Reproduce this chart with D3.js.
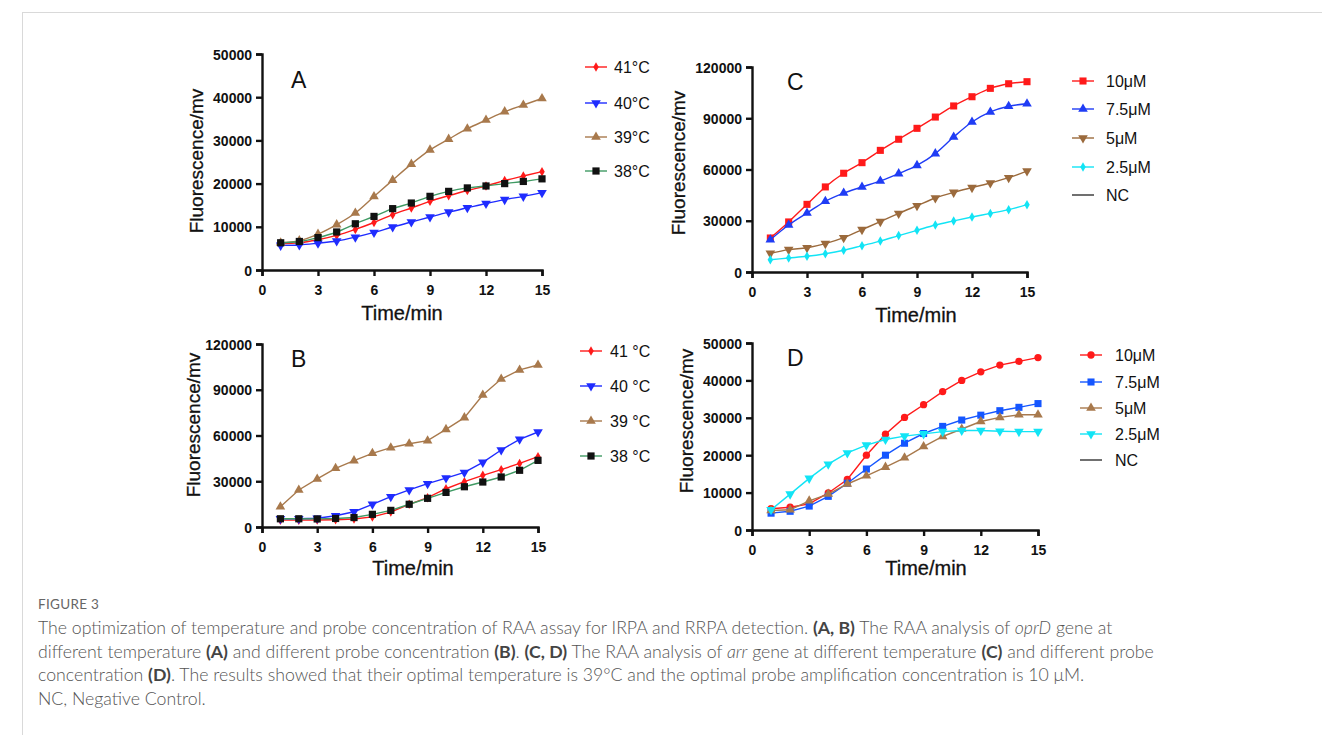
<!DOCTYPE html>
<html><head><meta charset="utf-8">
<script src="https://cdn.jsdelivr.net/npm/d3@7"></script>
<style>
html,body{margin:0;padding:0;background:#fff;}
svg{display:block;}
</style></head>
<body>
<svg id="fig" width="1322" height="735"></svg>
<script>
// ---------- DATA ----------
const timeMin = [1,2,3,4,5,6,7,8,9,10,11,12,13,14,15];
const xTicks = [0,3,6,9,12,15];
const yTicks50k = [0,10000,20000,30000,40000,50000];
const yTicks120k = [0,30000,60000,90000,120000];

const tempLabelsA = ["41°C","40°C","39°C","38°C"];
const tempLabelsB = ["41 °C","40 °C","39 °C","38 °C"];
const probeLabels = ["10μM","7.5μM","5μM","2.5μM","NC"];

// Panel A (oprD, temperature)
const a41 = [6100,6300,7000,8000,9400,11000,12800,14350,15900,17200,18400,19450,20700,21750,22760];
const a40 = [5700,5800,6200,6700,7600,8700,9950,11100,12270,13400,14400,15400,16300,17050,17900];
const a39 = [6300,6800,8300,10500,13200,17000,20800,24500,27800,30300,32700,34700,36650,38200,39700];
const a38 = [6300,6600,7500,8800,10700,12400,14200,15500,17050,18200,19000,19450,20000,20500,21100];

// Panel B
const b41 = [4500,4500,4600,4800,5200,6600,9800,14900,19200,25100,29700,33900,37600,41700,46100];
const b40 = [5400,5400,5700,7400,10000,14900,19900,24300,28400,32100,35800,42400,50500,57500,62300];
const b39 = [13300,24300,31500,38500,43500,48300,52000,54600,56600,64000,71700,86600,97000,103000,106200];
const b38 = [5400,5400,5300,5600,6200,8300,10900,14900,18800,22700,26400,29500,32800,37200,43700];

// Panel C (arr)
const c10 = [19900,29300,39600,49800,57800,64000,71200,77700,84100,90700,97200,102600,107500,110200,111400];
const c75 = [18900,27500,34500,41400,46200,49800,53300,57600,62400,69300,79000,87800,93700,97000,98500];
const c5  = [10900,13100,14200,16600,20100,24800,29500,34300,38800,43300,46600,49400,52100,55200,59100];
const c25 = [7200,8200,9200,10700,12700,15400,18100,21300,24400,27500,29900,32200,34300,36500,39400];

// Panel D
const d10 = [5700,6100,7000,9900,13500,20000,25600,30100,33500,37000,40000,42300,44100,45100,46100];
const d75 = [4500,5000,6400,9000,12500,16300,20000,23200,25800,27700,29400,30700,31900,32800,33800];
const d5  = [5200,5400,7800,9600,12300,14500,16800,19300,22300,25000,27000,29000,30100,30800,30800];
const d25 = [5400,9600,13800,17600,20600,22700,24200,25100,25700,26300,26600,26600,26400,26300,26300];

// ---------- STYLE ----------
const RED="#ff1a1a", BLUE="#1f2cff", BROWN="#a8794c", GREEN="#3f9a63", BLACK="#111",
      CBLUE="#1f3cf5", CYAN="#12e4f5", DBLUE="#1556ff", CBROWN="#9b6a3c";

const triDown = {draw(ctx,size){const s=Math.sqrt(size/(Math.sqrt(3)/4)); const h=s*Math.sqrt(3)/2;
  ctx.moveTo(-s/2,-h/3); ctx.lineTo(s/2,-h/3); ctx.lineTo(0,2*h/3); ctx.closePath();}};
const triUp = {draw(ctx,size){const s=Math.sqrt(size/(Math.sqrt(3)/4)); const h=s*Math.sqrt(3)/2;
  ctx.moveTo(-s/2,h/3); ctx.lineTo(s/2,h/3); ctx.lineTo(0,-2*h/3); ctx.closePath();}};

const panels = [
  {letter:"A", x0:262, x1:542, yT:54, yB:270, ymax:50000, yTicks:yTicks50k, curve:d3.curveMonotoneX,
   ylab:{x:203,y:161}, xlab:{x:402,y:320}, let:{x:291,y:88},
   legend:{l1:585,l2:607,tx:614,rows:[67,103,137,171]},
   series:[
     {name:tempLabelsA[0], v:a41, line:RED, fill:RED, sym:d3.symbolDiamond, size:26},
     {name:tempLabelsA[1], v:a40, line:BLUE, fill:BLUE, sym:triDown, size:40},
     {name:tempLabelsA[2], v:a39, line:BROWN, fill:BROWN, sym:triUp, size:40},
     {name:tempLabelsA[3], v:a38, line:GREEN, fill:BLACK, sym:d3.symbolSquare, size:52}]},
  {letter:"B", x0:262, x1:538, yT:344, yB:527, ymax:120000, yTicks:yTicks120k, curve:d3.curveLinear,
   ylab:{x:200,y:425}, xlab:{x:413,y:575}, let:{x:291,y:367},
   legend:{l1:580,l2:602,tx:610,rows:[351,386,421,456]},
   series:[
     {name:tempLabelsB[0], v:b41, line:RED, fill:RED, sym:d3.symbolDiamond, size:26},
     {name:tempLabelsB[1], v:b40, line:BLUE, fill:BLUE, sym:triDown, size:40},
     {name:tempLabelsB[2], v:b39, line:BROWN, fill:BROWN, sym:triUp, size:40},
     {name:tempLabelsB[3], v:b38, line:GREEN, fill:BLACK, sym:d3.symbolSquare, size:52}]},
  {letter:"C", x0:752, x1:1027, yT:67, yB:272, ymax:120000, yTicks:yTicks120k, curve:d3.curveMonotoneX,
   ylab:{x:685,y:163}, xlab:{x:916,y:322}, let:{x:787,y:90},
   legend:{l1:1072,l2:1094,tx:1106,rows:[81,109,138,167,195]},
   series:[
     {name:probeLabels[0], v:c10, line:RED, fill:RED, sym:d3.symbolSquare, size:50},
     {name:probeLabels[1], v:c75, line:CBLUE, fill:CBLUE, sym:triUp, size:40},
     {name:probeLabels[2], v:c5, line:CBROWN, fill:CBROWN, sym:triDown, size:40},
     {name:probeLabels[3], v:c25, line:CYAN, fill:CYAN, sym:d3.symbolDiamond, size:26},
     {name:probeLabels[4], v:null, line:"#333", fill:null, sym:null, size:0}]},
  {letter:"D", x0:752, x1:1038, yT:343, yB:530, ymax:50000, yTicks:yTicks50k, curve:d3.curveLinear,
   ylab:{x:693,y:421}, xlab:{x:926,y:575}, let:{x:787,y:366},
   legend:{l1:1080,l2:1102,tx:1115,rows:[355,382,408,434,460]},
   series:[
     {name:probeLabels[0], v:d10, line:RED, fill:RED, sym:d3.symbolCircle, size:42},
     {name:probeLabels[1], v:d75, line:DBLUE, fill:DBLUE, sym:d3.symbolSquare, size:50},
     {name:probeLabels[2], v:d5, line:BROWN, fill:BROWN, sym:triUp, size:40},
     {name:probeLabels[3], v:d25, line:CYAN, fill:CYAN, sym:triDown, size:40},
     {name:probeLabels[4], v:null, line:"#333", fill:null, sym:null, size:0}]}
];

const svg = d3.select("#fig");
const FONT = "'Liberation Sans', Arial, Helvetica, sans-serif";

// frame lines
svg.append("line").attr("x1",22).attr("x2",1322).attr("y1",12.5).attr("y2",12.5).attr("stroke","#d9d9d9").attr("stroke-width",1);
svg.append("line").attr("x1",22.5).attr("x2",22.5).attr("y1",12).attr("y2",735).attr("stroke","#d9d9d9").attr("stroke-width",1);

panels.forEach(p=>{
  const g = svg.append("g");
  const x = d3.scaleLinear().domain([0,15]).range([p.x0,p.x1]);
  const y = d3.scaleLinear().domain([0,p.ymax]).range([p.yB,p.yT]);

  const xa = g.append("g").attr("transform",`translate(0,${p.yB})`)
    .call(d3.axisBottom(x).tickValues(xTicks).tickSize(6).tickPadding(6).tickFormat(d3.format("d")));
  const ya = g.append("g").attr("transform",`translate(${p.x0},0)`)
    .call(d3.axisLeft(y).tickValues(p.yTicks).tickSize(6).tickPadding(4).tickFormat(d3.format("d")));
  [xa,ya].forEach(a=>{
    a.select(".domain").attr("stroke","#111").attr("stroke-width",2.4);
    a.selectAll(".tick line").attr("stroke","#111").attr("stroke-width",2.4);
    a.selectAll(".tick text").attr("fill","#111").style("font-family",FONT)
      .style("font-size","14px").style("font-weight","bold");
  });
  xa.selectAll(".tick text").attr("dy","0.95em");
  ya.selectAll(".tick text").attr("dy","0.36em");

  g.append("text").attr("transform",`translate(${p.ylab.x},${p.ylab.y}) rotate(-90)`)
    .attr("text-anchor","middle").style("font-family",FONT).style("font-size","19px").attr("fill","#111")
    .attr("stroke","#111").attr("stroke-width",0.3)
    .text("Fluorescence/mv");
  g.append("text").attr("x",p.xlab.x).attr("y",p.xlab.y).attr("text-anchor","middle")
    .style("font-family",FONT).style("font-size","20px").attr("fill","#111")
    .attr("stroke","#111").attr("stroke-width",0.3).text("Time/min");
  g.append("text").attr("x",p.let.x).attr("y",p.let.y)
    .style("font-family",FONT).style("font-size","23px").attr("fill","#111").text(p.letter);

  const line = d3.line().x((d,i)=>x(timeMin[i])).y(d=>y(d)).curve(p.curve);
  p.series.forEach(s=>{
    if(!s.v) return;
    g.append("path").attr("d",line(s.v)).attr("fill","none").attr("stroke",s.line).attr("stroke-width",1.4);
    g.selectAll(null).data(s.v).enter().append("path")
      .attr("transform",(d,i)=>`translate(${x(timeMin[i])},${y(d)})`)
      .attr("d",d3.symbol().type(s.sym).size(s.size)).attr("fill",s.fill);
  });

  // legend
  p.series.forEach((s,i)=>{
    const ry = p.legend.rows[i];
    g.append("line").attr("x1",p.legend.l1).attr("x2",p.legend.l2).attr("y1",ry).attr("y2",ry)
      .attr("stroke",s.line).attr("stroke-width",1.4);
    if(s.sym){
      g.append("path").attr("transform",`translate(${(p.legend.l1+p.legend.l2)/2},${ry})`)
        .attr("d",d3.symbol().type(s.sym).size(s.size)).attr("fill",s.fill);
    }
    g.append("text").attr("x",p.legend.tx).attr("y",ry).attr("dy","0.36em")
      .style("font-family",FONT).style("font-size","16px").attr("fill","#111").text(s.name);
  });
});

// ---------- CAPTION ----------
const CAP = "Lato, 'Open Sans', sans-serif";
svg.append("text").attr("x",38).attr("y",609).style("font-family",CAP).style("font-size","13.5px")
  .style("font-weight","400").attr("fill","#666").style("letter-spacing","0.3px").text("FIGURE 3");

const capLines = [
  [["The optimization of temperature and probe concentration of RAA assay for IRPA and RRPA detection. ",""],["(A, B)","b"],[" The RAA analysis of ",""],["oprD","i"],[" gene at",""]],
  [["different temperature ",""],["(A)","b"],[" and different probe concentration ",""],["(B)","b"],[". ",""],["(C, D)","b"],[" The RAA analysis of ",""],["arr","i"],[" gene at different temperature ",""],["(C)","b"],[" and different probe",""]],
  [["concentration ",""],["(D)","b"],[". The results showed that their optimal temperature is 39°C and the optimal probe amplification concentration is 10 μM.",""]],
  [["NC, Negative Control.",""]]
];
const capY = [634,658,681,705];
capLines.forEach((ln,i)=>{
  const t = svg.append("text").attr("x",38).attr("y",capY[i]).style("font-family",CAP)
    .style("font-size","17.7px").style("font-weight","300").attr("fill","#555");
  ln.forEach(([txt,st])=>{
    const ts = t.append("tspan").text(txt);
    if(st==="b") ts.style("font-weight","700").attr("fill","#444");
    if(st==="i") ts.style("font-style","italic");
  });
});
</script>
</body></html>
